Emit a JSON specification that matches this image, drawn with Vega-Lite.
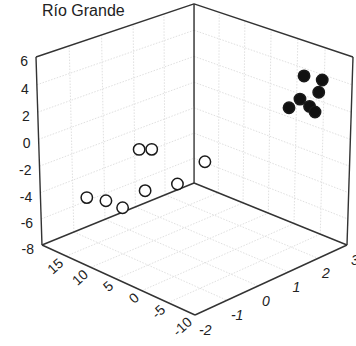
{
  "$schema": "https://vega.github.io/schema/vega-lite/v6.json",
  "width": 356,
  "height": 346,
  "autosize": {"type": "none"},
  "padding": 0,
  "background": "white",
  "title": {"text": "Río Grande", "anchor": "start", "frame": "group", "orient": "top", "offset": -19, "dx": 42, "font": "Liberation Sans", "fontSize": 16, "fontWeight": "normal", "color": "#222222"},
  "config": {"view": {"stroke": null}},
  "layer": [
    {
      "data": {"values": [
        {"a1": 20, "b1": -1, "c1": -8, "a2": 20, "b2": -1, "c2": 6},
        {"a1": 20, "b1": 0, "c1": -8, "a2": 20, "b2": 0, "c2": 6},
        {"a1": 20, "b1": 1, "c1": -8, "a2": 20, "b2": 1, "c2": 6},
        {"a1": 20, "b1": 2, "c1": -8, "a2": 20, "b2": 2, "c2": 6},
        {"a1": 20, "b1": -2, "c1": -6, "a2": 20, "b2": 3, "c2": -6},
        {"a1": 20, "b1": -2, "c1": -4, "a2": 20, "b2": 3, "c2": -4},
        {"a1": 20, "b1": -2, "c1": -2, "a2": 20, "b2": 3, "c2": -2},
        {"a1": 20, "b1": -2, "c1": 0, "a2": 20, "b2": 3, "c2": 0},
        {"a1": 20, "b1": -2, "c1": 2, "a2": 20, "b2": 3, "c2": 2},
        {"a1": 20, "b1": -2, "c1": 4, "a2": 20, "b2": 3, "c2": 4},
        {"a1": -5, "b1": 3, "c1": -8, "a2": -5, "b2": 3, "c2": 6},
        {"a1": 0, "b1": 3, "c1": -8, "a2": 0, "b2": 3, "c2": 6},
        {"a1": 5, "b1": 3, "c1": -8, "a2": 5, "b2": 3, "c2": 6},
        {"a1": 10, "b1": 3, "c1": -8, "a2": 10, "b2": 3, "c2": 6},
        {"a1": 15, "b1": 3, "c1": -8, "a2": 15, "b2": 3, "c2": 6},
        {"a1": 20, "b1": 3, "c1": -6, "a2": -10, "b2": 3, "c2": -6},
        {"a1": 20, "b1": 3, "c1": -4, "a2": -10, "b2": 3, "c2": -4},
        {"a1": 20, "b1": 3, "c1": -2, "a2": -10, "b2": 3, "c2": -2},
        {"a1": 20, "b1": 3, "c1": 0, "a2": -10, "b2": 3, "c2": 0},
        {"a1": 20, "b1": 3, "c1": 2, "a2": -10, "b2": 3, "c2": 2},
        {"a1": 20, "b1": 3, "c1": 4, "a2": -10, "b2": 3, "c2": 4},
        {"a1": -5, "b1": -2, "c1": -8, "a2": -5, "b2": 3, "c2": -8},
        {"a1": 0, "b1": -2, "c1": -8, "a2": 0, "b2": 3, "c2": -8},
        {"a1": 5, "b1": -2, "c1": -8, "a2": 5, "b2": 3, "c2": -8},
        {"a1": 10, "b1": -2, "c1": -8, "a2": 10, "b2": 3, "c2": -8},
        {"a1": 15, "b1": -2, "c1": -8, "a2": 15, "b2": 3, "c2": -8},
        {"a1": 20, "b1": -1, "c1": -8, "a2": -10, "b2": -1, "c2": -8},
        {"a1": 20, "b1": 0, "c1": -8, "a2": -10, "b2": 0, "c2": -8},
        {"a1": 20, "b1": 1, "c1": -8, "a2": -10, "b2": 1, "c2": -8},
        {"a1": 20, "b1": 2, "c1": -8, "a2": -10, "b2": 2, "c2": -8}
      ]},
      "transform": [
        {"calculate": "(datum.a1+10)/30", "as": "u1"},
        {"calculate": "(datum.b1+2)/5", "as": "w1"},
        {"calculate": "(datum.c1+8)/14", "as": "h1"},
        {"calculate": "1+0.0645*datum.u1+0.0645*datum.w1-0.0402*datum.h1", "as": "D1"},
        {"calculate": "(195-150.3*datum.u1+174.4*datum.w1-7.83*datum.h1)/datum.D1", "as": "X1"},
        {"calculate": "(315-54.2*datum.u1-54.2*datum.w1-202.4*datum.h1)/datum.D1", "as": "Y1"},
        {"calculate": "(datum.a2+10)/30", "as": "u2"},
        {"calculate": "(datum.b2+2)/5", "as": "w2"},
        {"calculate": "(datum.c2+8)/14", "as": "h2"},
        {"calculate": "1+0.0645*datum.u2+0.0645*datum.w2-0.0402*datum.h2", "as": "D2"},
        {"calculate": "(195-150.3*datum.u2+174.4*datum.w2-7.83*datum.h2)/datum.D2", "as": "X2"},
        {"calculate": "(315-54.2*datum.u2-54.2*datum.w2-202.4*datum.h2)/datum.D2", "as": "Y2"}
      ],
      "mark": {"type": "rule", "color": "#e0e0e0", "strokeWidth": 1, "strokeDash": [1.5, 1.5]},
      "encoding": {
        "x": {"field": "X1", "type": "quantitative", "scale": {"domain": [0, 356], "range": [0, 356], "nice": false, "zero": false}, "axis": null},
        "y": {"field": "Y1", "type": "quantitative", "scale": {"domain": [0, 346], "range": [0, 346], "nice": false, "zero": false}, "axis": null},
        "x2": {"field": "X2"},
        "y2": {"field": "Y2"}
      }
    },
    {
      "data": {"values": [
        {"a1": 20, "b1": -2, "c1": -8, "a2": 20, "b2": -2, "c2": 6},
        {"a1": 20, "b1": 3, "c1": -8, "a2": 20, "b2": 3, "c2": 6},
        {"a1": -10, "b1": 3, "c1": -8, "a2": -10, "b2": 3, "c2": 6},
        {"a1": 20, "b1": -2, "c1": 6, "a2": 20, "b2": 3, "c2": 6},
        {"a1": 20, "b1": 3, "c1": 6, "a2": -10, "b2": 3, "c2": 6},
        {"a1": 20, "b1": -2, "c1": -8, "a2": -10, "b2": -2, "c2": -8},
        {"a1": -10, "b1": -2, "c1": -8, "a2": -10, "b2": 3, "c2": -8},
        {"a1": 20, "b1": -2, "c1": -8, "a2": 20, "b2": 3, "c2": -8},
        {"a1": 20, "b1": 3, "c1": -8, "a2": -10, "b2": 3, "c2": -8}
      ]},
      "transform": [
        {"calculate": "(datum.a1+10)/30", "as": "u1"},
        {"calculate": "(datum.b1+2)/5", "as": "w1"},
        {"calculate": "(datum.c1+8)/14", "as": "h1"},
        {"calculate": "1+0.0645*datum.u1+0.0645*datum.w1-0.0402*datum.h1", "as": "D1"},
        {"calculate": "(195-150.3*datum.u1+174.4*datum.w1-7.83*datum.h1)/datum.D1", "as": "X1"},
        {"calculate": "(315-54.2*datum.u1-54.2*datum.w1-202.4*datum.h1)/datum.D1", "as": "Y1"},
        {"calculate": "(datum.a2+10)/30", "as": "u2"},
        {"calculate": "(datum.b2+2)/5", "as": "w2"},
        {"calculate": "(datum.c2+8)/14", "as": "h2"},
        {"calculate": "1+0.0645*datum.u2+0.0645*datum.w2-0.0402*datum.h2", "as": "D2"},
        {"calculate": "(195-150.3*datum.u2+174.4*datum.w2-7.83*datum.h2)/datum.D2", "as": "X2"},
        {"calculate": "(315-54.2*datum.u2-54.2*datum.w2-202.4*datum.h2)/datum.D2", "as": "Y2"}
      ],
      "mark": {"type": "rule", "color": "#333333", "strokeWidth": 1.4},
      "encoding": {
        "x": {"field": "X1", "type": "quantitative", "scale": {"domain": [0, 356], "range": [0, 356], "nice": false, "zero": false}, "axis": null},
        "y": {"field": "Y1", "type": "quantitative", "scale": {"domain": [0, 346], "range": [0, 346], "nice": false, "zero": false}, "axis": null},
        "x2": {"field": "X2"},
        "y2": {"field": "Y2"}
      }
    },
    {
      "data": {"values": [
        {"group": "open", "a": 17, "b": -1.02, "c": -4.83},
        {"group": "open", "a": 17, "b": -0.42, "c": -5.65},
        {"group": "open", "a": 17, "b": 0.11, "c": -6.71},
        {"group": "open", "a": 17, "b": 0.85, "c": -6.09},
        {"group": "open", "a": 17, "b": 1.93, "c": -6.59},
        {"group": "open", "a": 17, "b": 2.87, "c": -5.70},
        {"group": "open", "a": 17, "b": 0.67, "c": -2.72},
        {"group": "open", "a": 17, "b": 1.08, "c": -3.09},
        {"group": "filled", "a": -5, "b": 2.31, "c": 4.52},
        {"group": "filled", "a": -5, "b": 2.93, "c": 3.71},
        {"group": "filled", "a": -5, "b": 2.82, "c": 2.90},
        {"group": "filled", "a": -5, "b": 2.19, "c": 2.94},
        {"group": "filled", "a": -5, "b": 1.83, "c": 2.62},
        {"group": "filled", "a": -5, "b": 2.52, "c": 2.12},
        {"group": "filled", "a": -5, "b": 2.71, "c": 1.54}
      ]},
      "transform": [
        {"calculate": "(datum.a+10)/30", "as": "u"},
        {"calculate": "(datum.b+2)/5", "as": "w"},
        {"calculate": "(datum.c+8)/14", "as": "h"},
        {"calculate": "1+0.0645*datum.u+0.0645*datum.w-0.0402*datum.h", "as": "D"},
        {"calculate": "(195-150.3*datum.u+174.4*datum.w-7.83*datum.h)/datum.D", "as": "X"},
        {"calculate": "(315-54.2*datum.u-54.2*datum.w-202.4*datum.h)/datum.D", "as": "Y"}
      ],
      "mark": {"type": "point", "shape": "circle", "filled": true, "stroke": "#1a1a1a", "strokeWidth": 1.5, "size": 130, "opacity": 1},
      "encoding": {
        "x": {"field": "X", "type": "quantitative", "scale": {"domain": [0, 356], "range": [0, 356], "nice": false, "zero": false}, "axis": null},
        "y": {"field": "Y", "type": "quantitative", "scale": {"domain": [0, 346], "range": [0, 346], "nice": false, "zero": false}, "axis": null},
        "fill": {"field": "group", "type": "nominal", "scale": {"domain": ["open", "filled"], "range": ["#ffffff", "#111111"]}, "legend": null}
      }
    },
    {
      "data": {"values": [
        {"a": 20, "b": -2, "c": 6}, {"a": 20, "b": -2, "c": 4}, {"a": 20, "b": -2, "c": 2}, {"a": 20, "b": -2, "c": 0},
        {"a": 20, "b": -2, "c": -2}, {"a": 20, "b": -2, "c": -4}, {"a": 20, "b": -2, "c": -6}, {"a": 20, "b": -2, "c": -8}
      ]},
      "transform": [
        {"calculate": "(datum.a+10)/30", "as": "u"},
        {"calculate": "(datum.b+2)/5", "as": "w"},
        {"calculate": "(datum.c+8)/14", "as": "h"},
        {"calculate": "1+0.0645*datum.u+0.0645*datum.w-0.0402*datum.h", "as": "D"},
        {"calculate": "(195-150.3*datum.u+174.4*datum.w-7.83*datum.h)/datum.D", "as": "X"},
        {"calculate": "(315-54.2*datum.u-54.2*datum.w-202.4*datum.h)/datum.D", "as": "Y"}
      ],
      "mark": {"type": "text", "align": "right", "baseline": "middle", "dx": -8, "dy": 5, "font": "Liberation Sans", "fontSize": 14, "color": "#222222"},
      "encoding": {
        "x": {"field": "X", "type": "quantitative", "scale": {"domain": [0, 356], "range": [0, 356], "nice": false, "zero": false}, "axis": null},
        "y": {"field": "Y", "type": "quantitative", "scale": {"domain": [0, 346], "range": [0, 346], "nice": false, "zero": false}, "axis": null},
        "text": {"field": "c", "type": "nominal"}
      }
    },
    {
      "data": {"values": [
        {"a": 15, "b": -2, "c": -8}, {"a": 10, "b": -2, "c": -8}, {"a": 5, "b": -2, "c": -8},
        {"a": 0, "b": -2, "c": -8}, {"a": -5, "b": -2, "c": -8}, {"a": -10, "b": -2, "c": -8}
      ]},
      "transform": [
        {"calculate": "(datum.a+10)/30", "as": "u"},
        {"calculate": "(datum.b+2)/5", "as": "w"},
        {"calculate": "(datum.c+8)/14", "as": "h"},
        {"calculate": "1+0.0645*datum.u+0.0645*datum.w-0.0402*datum.h", "as": "D"},
        {"calculate": "(195-150.3*datum.u+174.4*datum.w-7.83*datum.h)/datum.D", "as": "X"},
        {"calculate": "(315-54.2*datum.u-54.2*datum.w-202.4*datum.h)/datum.D", "as": "Y"}
      ],
      "mark": {"type": "text", "align": "right", "baseline": "middle", "angle": -42, "dx": -7, "dy": 1, "font": "Liberation Sans", "fontSize": 14, "color": "#222222"},
      "encoding": {
        "x": {"field": "X", "type": "quantitative", "scale": {"domain": [0, 356], "range": [0, 356], "nice": false, "zero": false}, "axis": null},
        "y": {"field": "Y", "type": "quantitative", "scale": {"domain": [0, 346], "range": [0, 346], "nice": false, "zero": false}, "axis": null},
        "text": {"field": "a", "type": "nominal"}
      }
    },
    {
      "data": {"values": [
        {"a": -10, "b": -2, "c": -8}, {"a": -10, "b": -1, "c": -8}, {"a": -10, "b": 0, "c": -8},
        {"a": -10, "b": 1, "c": -8}, {"a": -10, "b": 2, "c": -8}, {"a": -10, "b": 3, "c": -8}
      ]},
      "transform": [
        {"calculate": "(datum.a+10)/30", "as": "u"},
        {"calculate": "(datum.b+2)/5", "as": "w"},
        {"calculate": "(datum.c+8)/14", "as": "h"},
        {"calculate": "1+0.0645*datum.u+0.0645*datum.w-0.0402*datum.h", "as": "D"},
        {"calculate": "(195-150.3*datum.u+174.4*datum.w-7.83*datum.h)/datum.D", "as": "X"},
        {"calculate": "(315-54.2*datum.u-54.2*datum.w-202.4*datum.h)/datum.D", "as": "Y"}
      ],
      "mark": {"type": "text", "align": "left", "baseline": "middle", "dx": 4, "dy": 16, "font": "Liberation Sans", "fontSize": 14, "fontStyle": "italic", "color": "#222222"},
      "encoding": {
        "x": {"field": "X", "type": "quantitative", "scale": {"domain": [0, 356], "range": [0, 356], "nice": false, "zero": false}, "axis": null},
        "y": {"field": "Y", "type": "quantitative", "scale": {"domain": [0, 346], "range": [0, 346], "nice": false, "zero": false}, "axis": null},
        "text": {"field": "b", "type": "nominal"}
      }
    }
  ]
}
